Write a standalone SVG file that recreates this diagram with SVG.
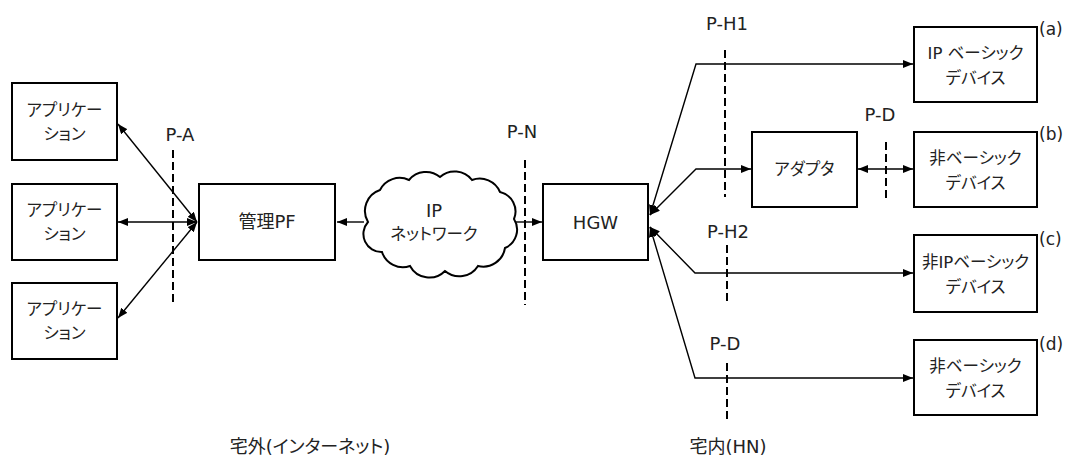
<svg xmlns="http://www.w3.org/2000/svg" width="1072" height="457" viewBox="0 0 1072 457">
<defs>
<style>
.box{fill:#fff;stroke:#000;stroke-width:2}
.ln{fill:none;stroke:#000;stroke-width:1.4}
.dash{fill:none;stroke:#000;stroke-width:2;stroke-dasharray:8 4}
text{font-family:"DejaVu Sans","Noto Sans CJK JP",sans-serif;fill:#222;font-feature-settings:"palt"}
.t{font-size:16.5px;text-anchor:middle}
.big{font-size:18px;text-anchor:middle}
.lbl{font-size:18px;text-anchor:middle}
.tag{font-size:17px}
</style>
<marker id="ah" viewBox="0 0 10 8" refX="10" refY="4" markerWidth="10" markerHeight="8" markerUnits="userSpaceOnUse" orient="auto-start-reverse">
<path d="M0,0 L10,4 L0,8 z" fill="#000"/>
</marker>
</defs>

<g id="connectors">
<line class="ln" x1="197" y1="222" x2="118" y2="124" marker-start="url(#ah)" marker-end="url(#ah)"/>
<line class="ln" x1="197" y1="222" x2="118" y2="222" marker-start="url(#ah)" marker-end="url(#ah)"/>
<line class="ln" x1="197" y1="222" x2="118" y2="318" marker-start="url(#ah)" marker-end="url(#ah)"/>
<line class="ln" x1="364" y1="222" x2="337" y2="222" marker-end="url(#ah)"/>
<line class="ln" x1="516" y1="222" x2="542" y2="222" marker-end="url(#ah)"/>
<polyline class="ln" points="650,215 696,64 913,64" marker-start="url(#ah)" marker-end="url(#ah)"/>
<polyline class="ln" points="650,215 696,169 751,169" marker-start="url(#ah)" marker-end="url(#ah)"/>
<polyline class="ln" points="650,227 695,273 913,273" marker-start="url(#ah)" marker-end="url(#ah)"/>
<polyline class="ln" points="650,227 695,378 913,378" marker-start="url(#ah)" marker-end="url(#ah)"/>
<line class="ln" x1="858" y1="169" x2="913" y2="169" marker-start="url(#ah)" marker-end="url(#ah)"/>
</g>

<g id="boundaries">
<line class="dash" x1="173" y1="150" x2="173" y2="305"/>
<text class="lbl" x="180" y="141">P-A</text>
<line class="dash" x1="525" y1="160" x2="525" y2="305"/>
<text class="lbl" x="522" y="138">P-N</text>
<line class="dash" x1="725" y1="50" x2="725" y2="197"/>
<text class="lbl" x="727" y="30">P-H1</text>
<line class="dash" x1="886" y1="142" x2="886" y2="200"/>
<text class="lbl" x="880" y="121">P-D</text>
<line class="dash" x1="727" y1="245" x2="727" y2="303"/>
<text class="lbl" x="728" y="238">P-H2</text>
<line class="dash" x1="727" y1="363" x2="727" y2="422"/>
<text class="lbl" x="725" y="350">P-D</text>
</g>

<g id="app1">
<rect class="box" x="12" y="83" width="105" height="77"/>
<text class="t" x="64.5" y="116">アプリケー</text>
<text class="t" x="64.5" y="140">ション</text>
</g>
<g id="app2">
<rect class="box" x="12" y="184" width="105" height="76"/>
<text class="t" x="64.5" y="216">アプリケー</text>
<text class="t" x="64.5" y="240">ション</text>
</g>
<g id="app3">
<rect class="box" x="12" y="283" width="105" height="76"/>
<text class="t" x="64.5" y="315">アプリケー</text>
<text class="t" x="64.5" y="339">ション</text>
</g>

<g id="pf">
<rect class="box" x="199" y="184" width="136" height="76"/>
<text class="big" x="267" y="228">管理PF</text>
</g>

<g id="cloud">
<path class="box" d="M368,222 A22,22 0 0 1 380,190 A22,22 0 0 1 409,180 A22,22 0 0 1 440,177 A22,22 0 0 1 472,180 A22,22 0 0 1 500,192 A20,20 0 0 1 514,219 A20,20 0 0 1 505,248 A22,22 0 0 1 478,266 A22,22 0 0 1 445,271 A22,22 0 0 1 410,266 A22,22 0 0 1 382,252 A18,18 0 0 1 368,222 Z"/>
<text class="big" x="434" y="217">IP</text>
<text class="t" x="434" y="240">ネットワーク</text>
</g>

<g id="hgw">
<rect class="box" x="543" y="184" width="105" height="76"/>
<text class="big" x="595.5" y="229">HGW</text>
</g>

<g id="dev-a">
<rect class="box" x="914" y="27" width="123" height="75"/>
<text class="t" x="975.5" y="59">IP ベーシック</text>
<text class="t" x="975.5" y="84">デバイス</text>
<text class="tag" x="1039" y="35">(a)</text>
</g>

<g id="adapter">
<rect class="box" x="752" y="132" width="105" height="75"/>
<text class="t" x="804.5" y="175">アダプタ</text>
</g>

<g id="dev-b">
<rect class="box" x="914" y="132" width="123" height="75"/>
<text class="t" x="975.5" y="164">非ベーシック</text>
<text class="t" x="975.5" y="189">デバイス</text>
<text class="tag" x="1039" y="140">(b)</text>
</g>

<g id="dev-c">
<rect class="box" x="914" y="235" width="123" height="77"/>
<text class="t" x="975.5" y="268">非IPベーシック</text>
<text class="t" x="975.5" y="293">デバイス</text>
<text class="tag" x="1039" y="245">(c)</text>
</g>

<g id="dev-d">
<rect class="box" x="914" y="340" width="123" height="75"/>
<text class="t" x="975.5" y="372">非ベーシック</text>
<text class="t" x="975.5" y="397">デバイス</text>
<text class="tag" x="1039" y="350">(d)</text>
</g>

<g id="zones">
<text class="lbl" x="310" y="453">宅外(インターネット)</text>
<text class="lbl" x="728" y="453">宅内(HN)</text>
</g>
</svg>
